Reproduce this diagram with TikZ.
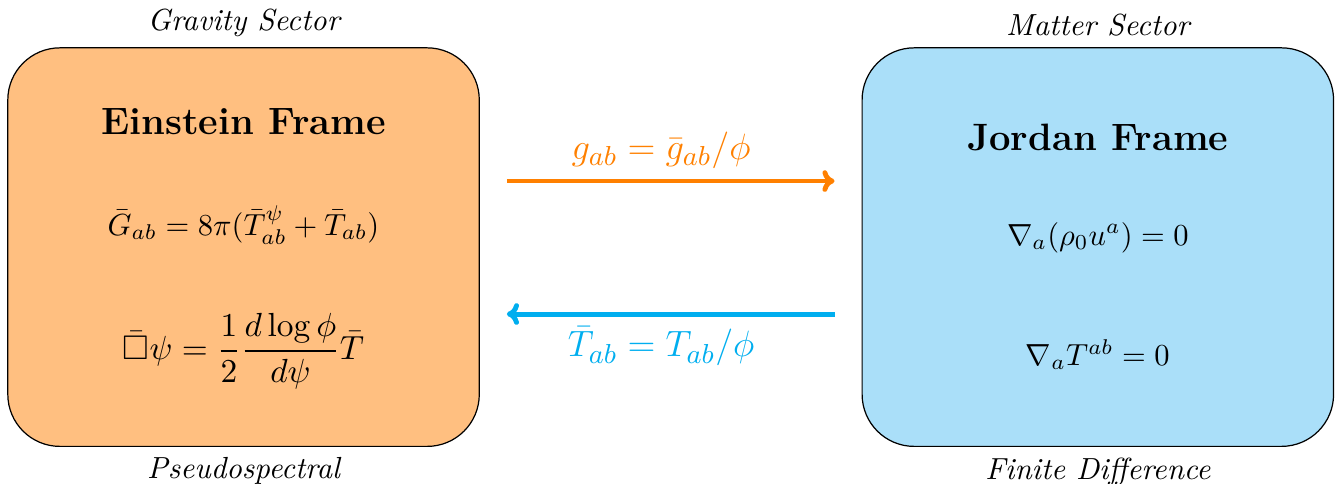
\documentclass[tikz,border=0pt]{standalone}
\usepackage{amsmath,amssymb}
\usetikzlibrary{arrows.meta,calc,positioning}
\definecolor{Peach}{HTML}{FFBF80}
\definecolor{Sky}{HTML}{AADFF9}
\definecolor{Tangerine}{HTML}{FF8000}
\definecolor{Azure}{HTML}{00AEEF}
\tikzset{
  framebox/.style={
    rectangle, rounded corners=0.6cm, draw=black,
    minimum width=5.43cm, minimum height=4.59cm
  },
  sector/.style={font=\itshape, inner sep=3.33pt},
  heading/.style={font=\fontsize{12.5}{15}\selectfont\bfseries},
  eqn/.style={inner sep=2pt},
  bigeqn/.style={inner sep=2pt, font=\fontsize{11.2}{13}\selectfont},
  transfer/.style={-{To[length=1.4mm,width=2.5mm]}, line width=1.6pt},
  maplabel/.style={font=\fontsize{12.3}{15}\selectfont, xshift=-0.11cm}
}
\begin{document}
\begin{tikzpicture}
    \useasboundingbox (0,0) rectangle (15.41,-5.565);
    % the two frames
    \node[framebox,fill=Peach] (gravity) at (2.805,-2.846) {};
    \node[framebox,fill=Sky] (matter) at (12.644,-2.846) {};
    \node[sector,above=0pt of gravity] (gravlabel) {Gravity Sector};
    \node[sector,below=0pt of gravity] (gravmethod) {Pseudospectral};
    \node[sector,above=0pt of matter] (matlabel) {Matter Sector};
    \node[sector,below=0pt of matter] (matmethod) {Finite Difference};
    % contents
    \node[heading] (einstein) at ($(gravity.north)+(0,-0.86)$) {Einstein Frame};
    \node[eqn] (field) at ($(gravity.north)+(0,-2.05)$)
      {$\bar{G}_{ab}=8\pi(\bar{T}^{\psi}_{ab}+\bar{T}_{ab})$};
    \node[bigeqn] (scalar) at ($(gravity.north)+(0,-3.50)$)
      {$\bar{\Box}\psi=\dfrac{1}{2}\dfrac{d\log\phi}{d\psi}\bar{T}$};
    \node[heading] (jordan) at ($(matter.north)+(0,-1.04)$) {Jordan Frame};
    \node[eqn] (mass) at ($(matter.north)+(0,-2.19)$)
      {$\nabla_a(\rho_0u^a)=0$};
    \node[eqn] (stress) at ($(matter.north)+(0,-3.54)$)
      {$\nabla_aT^{ab}=0$};
    % maps between frames
    \coordinate (fwdA) at ($(gravity.east)+(0.31,0.761)$);
    \coordinate (fwdB) at ($(matter.west)+(-0.31,0.761)$);
    \coordinate (bckA) at ($(matter.west)+(-0.31,-0.771)$);
    \coordinate (bckB) at ($(gravity.east)+(0.31,-0.771)$);
    \draw[transfer,Tangerine] (fwdA) -- (fwdB)
      node[midway,above,maplabel,text=Tangerine] (metricmap) {$g_{ab}=\bar{g}_{ab}/\phi$};
    \draw[transfer,Azure] (bckA) -- (bckB)
      node[midway,below,maplabel,text=Azure] (stressmap) {$\bar{T}_{ab}=T_{ab}/\phi$};
\end{tikzpicture}
\end{document}
